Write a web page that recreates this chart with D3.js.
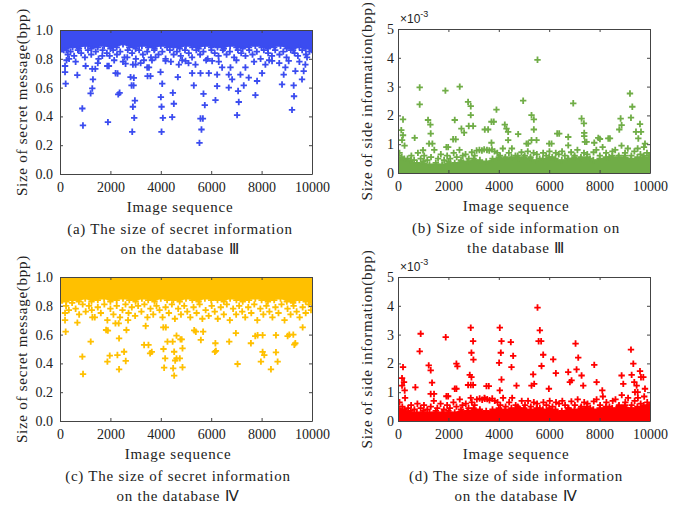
<!DOCTYPE html>
<html><head><meta charset="utf-8">
<script src="https://cdn.jsdelivr.net/npm/d3@7"></script>
<style>
html,body{margin:0;padding:0;background:#fff;}
svg text{font-family:"Liberation Serif","Times New Roman",serif;fill:#222;}
.lab{font-size:15px;letter-spacing:0.75px;}
</style></head>
<body><svg id="c" width="681" height="506"></svg>
<script>
// ---------------- DATA ----------------
const xTicks = [0,2000,4000,6000,8000,10000];
const msgTicks = [0,0.2,0.4,0.6,0.8,1.0];
const msgTickLabels = ["0.0","0.2","0.4","0.6","0.8","1.0"];
const sideTicks = [0,1,2,3,4,5];
const sideTickLabels = ["0","1","2","3","4","5"];
const bandX = d3.range(0,10001,250);

// (a) secret message, database III
const bandA_low = [0.85,0.86,0.88,0.87,0.89,0.87,0.88,0.89,0.87,0.88,0.90,0.88,0.87,0.89,0.88,0.87,0.89,0.88,0.88,0.87,0.89,0.88,0.87,0.89,0.88,0.88,0.87,0.89,0.88,0.87,0.88,0.89,0.88,0.87,0.88,0.89,0.87,0.86,0.88,0.87,0.86];
const fringeA = [[150,0.86],[310,0.83],[420,0.85],[560,0.82],[710,0.86],[840,0.84],[990,0.81],[1110,0.86],[1240,0.83],[1420,0.85],[1530,0.80],[1690,0.86],[1860,0.84],[1970,0.82],[2110,0.86],[2260,0.83],[2390,0.85],[2560,0.81],[2690,0.86],[2860,0.84],[3010,0.80],[3140,0.86],[3290,0.83],[3460,0.85],[3610,0.81],[3740,0.86],[3910,0.83],[4060,0.85],[4190,0.80],[4360,0.86],[4510,0.83],[4640,0.85],[4790,0.82],[4960,0.86],[5110,0.84],[5240,0.81],[5410,0.86],[5560,0.83],[5690,0.85],[5860,0.80],[6010,0.86],[6140,0.84],[6290,0.82],[6460,0.86],[6610,0.83],[6740,0.85],[6910,0.81],[7060,0.86],[7190,0.84],[7360,0.82],[7510,0.86],[7640,0.83],[7810,0.85],[7960,0.80],[8090,0.86],[8260,0.84],[8410,0.82],[8540,0.86],[8710,0.83],[8860,0.85],[8990,0.81],[9160,0.86],[9310,0.84],[9440,0.82],[9610,0.86],[9760,0.83],[9900,0.85],
 [260,0.79],[620,0.78],[1500,0.77],[2150,0.79],[2500,0.78],[3200,0.77],[3650,0.79],[4400,0.78],[4850,0.79],[5100,0.77],[5800,0.79],[6300,0.78],[7000,0.79],[7700,0.78],[8300,0.79],[8700,0.77],[9500,0.78]];
const outA = [[200,0.75],[200,0.708],[225,0.627],[360,0.80],[687,0.687],[885,0.455],[911,0.337],[1017,0.75],[1215,0.56],[1281,0.594],[1308,0.657],[1281,0.73],[1400,0.73],[1678,0.82],[1876,0.75],[1940,0.75],[1902,0.36],[2206,0.70],[2285,0.698],[2312,0.553],[2365,0.564],[2602,0.766],[2668,0.81],[2800,0.673],[2930,0.668],[2840,0.615],[2920,0.615],[2893,0.467],[2972,0.51],[2945,0.39],[2866,0.293],[2893,0.76],[3000,0.76],[3329,0.79],[3461,0.74],[3530,0.74],[3474,0.68],[3590,0.68],[3791,0.81],[4003,0.534],[4029,0.467],[3990,0.708],[4056,0.627],[4082,0.39],[4029,0.293],[4188,0.785],[4478,0.564],[4518,0.488],[4452,0.395],[4676,0.673],[4716,0.76],[4980,0.785],[5244,0.70],[5310,0.615],[5376,0.76],[5535,0.216],[5614,0.309],[5575,0.385],[5670,0.385],[5694,0.557],[5746,0.478],[5575,0.70],[5905,0.70],[6037,0.785],[6169,0.513],[6235,0.61],[6235,0.69],[6433,0.74],[6698,0.60],[6698,0.69],[6764,0.74],[6830,0.657],[7028,0.409],[7094,0.50],[7067,0.576],[7160,0.69],[7292,0.615],[7358,0.74],[7490,0.669],[7754,0.548],[7820,0.646],[8018,0.70],[8150,0.76],[8415,0.785],[8811,0.622],[8877,0.69],[8943,0.74],[9075,0.785],[9207,0.445],[9287,0.54],[9273,0.615],[9340,0.715],[9604,0.657],[9670,0.715],[9736,0.76],[9802,0.81]];

// (b) side information, database III (x10^-3)
const bandB_top = [0.60,0.50,0.45,0.35,0.40,0.30,0.35,0.30,0.40,0.35,0.45,0.40,0.50,0.45,0.40,0.50,0.55,0.50,0.55,0.60,0.55,0.50,0.45,0.50,0.55,0.50,0.45,0.50,0.55,0.50,0.55,0.45,0.50,0.55,0.60,0.55,0.60,0.50,0.55,0.60,0.55];
const fringeB = [[60,0.70],[150,0.55],[260,0.95],[380,0.50],[530,0.60],[640,0.45],[790,0.70],[900,0.50],[1040,0.60],[1160,0.45],[1310,0.55],[1440,0.80],[1590,0.50],[1700,0.65],[1830,0.45],[1950,0.60],[2070,0.50],[2210,0.70],[2330,0.55],[2440,0.80],[2570,0.60],[2680,0.65],[2810,0.50],[2930,0.72],[3040,0.60],[3120,0.78],[3230,0.80],[3330,0.78],[3420,0.82],[3530,0.80],[3620,0.78],[3730,0.82],[3830,0.75],[3940,0.70],[4050,0.60],[4160,0.85],[4260,0.55],[4400,0.70],[4520,0.85],[4660,0.60],[4780,0.50],[4900,0.72],[5030,0.60],[5150,0.75],[5260,0.55],[5380,0.70],[5510,0.65],[5620,0.50],[5760,0.70],[5880,0.60],[6010,0.75],[6120,0.55],[6260,0.70],[6380,0.65],[6510,0.75],[6620,0.60],[6760,0.50],[6870,0.72],[7010,0.60],[7120,0.80],[7260,0.55],[7380,0.70],[7510,0.65],[7620,0.50],[7760,0.72],[7870,0.80],[8010,0.60],[8120,0.90],[8260,0.70],[8380,0.55],[8510,0.75],[8620,0.80],[8760,0.60],[8870,0.95],[9010,0.70],[9120,0.85],[9260,0.60],[9380,0.75],[9510,0.85],[9620,0.65],[9760,0.90],[9880,0.70],[9960,0.60]];
const outB = [[5536,3.93],[861,2.97],[861,2.38],[1881,2.86],[2450,3.0],[2781,2.47],[2887,2.32],[2887,2.01],[2808,1.63],[2980,1.63],[2517,1.54],[2623,1.40],[2252,1.84],[2186,1.17],[2290,1.17],[1920,0.90],[1990,0.90],[199,1.86],[130,1.49],[199,1.31],[160,1.14],[662,1.22],[1192,1.84],[1285,1.68],[1298,1.37],[1232,1.02],[1364,1.02],[993,0.79],[3907,2.2],[3709,1.78],[3800,1.78],[3444,1.51],[3576,1.51],[3709,1.05],[4238,1.68],[4305,1.54],[4371,1.43],[4371,1.14],[4768,1.35],[4967,2.51],[5298,2.01],[5391,1.86],[5391,1.51],[5298,1.14],[5497,1.14],[5099,1.02],[5166,1.02],[6318,1.37],[6397,1.37],[6000,1.02],[6093,1.02],[6755,1.25],[6755,0.96],[6954,2.42],[7285,1.89],[7377,1.72],[7390,1.39],[7390,1.28],[7417,1.08],[7483,1.08],[7788,1.05],[7947,1.22],[8013,1.18],[8344,1.2],[8410,1.2],[8834,1.89],[8874,1.66],[8781,1.51],[9205,2.76],[9298,2.3],[9245,1.92],[9603,1.70],[9444,1.43],[9642,1.43],[9536,1.2],[9801,1.02]];

// (c) secret message, database IV
const bandC_low = [0.82,0.83,0.84,0.83,0.85,0.83,0.84,0.85,0.83,0.84,0.85,0.84,0.83,0.85,0.84,0.83,0.85,0.84,0.84,0.83,0.85,0.84,0.83,0.85,0.84,0.84,0.83,0.85,0.84,0.83,0.84,0.85,0.84,0.83,0.84,0.85,0.83,0.82,0.84,0.83,0.82];
const fringeC = [[240,0.80],[350,0.77],[480,0.82],[620,0.78],[760,0.74],[900,0.81],[1020,0.76],[1150,0.80],[1260,0.77],[1380,0.72],[1500,0.79],[1620,0.75],[1760,0.81],[1880,0.70],[2000,0.78],[2120,0.74],[2250,0.80],[2380,0.72],[2480,0.77],[2600,0.81],[2720,0.75],[2850,0.79],[2980,0.73],[3100,0.80],[3230,0.76],[3350,0.81],[3470,0.72],[3590,0.78],[3700,0.74],[3830,0.80],[3950,0.77],[4070,0.72],[4190,0.79],[4320,0.75],[4440,0.81],[4560,0.71],[4690,0.78],[4800,0.74],[4930,0.80],[5050,0.76],[5170,0.72],[5300,0.79],[5420,0.75],[5540,0.81],[5650,0.71],[5780,0.77],[5900,0.73],[6020,0.80],[6140,0.76],[6260,0.71],[6380,0.79],[6500,0.74],[6620,0.81],[6740,0.70],[6870,0.78],[6990,0.74],[7110,0.80],[7230,0.76],[7350,0.72],[7470,0.79],[7590,0.75],[7710,0.81],[7830,0.70],[7950,0.78],[8070,0.74],[8190,0.80],[8310,0.76],[8430,0.72],[8550,0.79],[8670,0.75],[8790,0.81],[8910,0.70],[9030,0.78],[9150,0.74],[9270,0.80],[9390,0.76],[9510,0.72],[9630,0.79],[9750,0.75],[9870,0.81],[9960,0.77]];
const outC = [[914,0.326],[887,0.447],[225,0.62],[200,0.70],[200,0.75],[689,0.683],[1219,0.551],[1285,0.72],[1881,0.412],[1974,0.454],[1830,0.632],[1900,0.628],[2278,0.458],[2344,0.359],[2344,0.574],[2200,0.678],[2330,0.678],[2543,0.481],[2609,0.417],[2636,0.632],[2700,0.70],[3338,0.528],[3510,0.528],[3576,0.47],[3642,0.48],[3400,0.66],[4132,0.37],[4172,0.435],[4106,0.50],[4265,0.551],[4100,0.65],[4200,0.65],[4530,0.315],[4490,0.366],[4570,0.42],[4623,0.435],[4530,0.481],[4470,0.551],[4623,0.593],[4755,0.435],[4861,0.373],[4861,0.505],[4780,0.567],[4830,0.567],[5325,0.63],[5390,0.62],[5589,0.563],[5680,0.62],[6146,0.48],[6186,0.487],[6166,0.54],[6715,0.551],[7046,0.396],[6980,0.61],[7576,0.54],[7748,0.59],[7841,0.596],[7973,0.412],[8040,0.48],[8106,0.458],[8040,0.596],[8371,0.359],[8636,0.412],[8570,0.477],[8570,0.596],[9033,0.59],[9099,0.60],[9298,0.53],[9338,0.54],[9258,0.60],[9629,0.65]];

// (d) side information, database IV (x10^-3)
const bandD_top = [0.50,0.40,0.35,0.30,0.35,0.30,0.35,0.30,0.35,0.30,0.40,0.35,0.45,0.40,0.35,0.40,0.45,0.40,0.45,0.50,0.45,0.40,0.45,0.40,0.45,0.40,0.35,0.45,0.40,0.45,0.50,0.40,0.45,0.50,0.45,0.50,0.55,0.45,0.50,0.55,0.50];
const fringeD = [[60,0.65],[170,0.50],[280,0.80],[400,0.45],[520,0.55],[650,0.40],[770,0.60],[900,0.45],[1030,0.55],[1160,0.40],[1300,0.50],[1420,0.70],[1560,0.45],[1690,0.60],[1820,0.40],[1950,0.55],[2060,0.45],[2200,0.65],[2320,0.50],[2450,0.75],[2560,0.55],[2690,0.60],[2800,0.45],[2930,0.65],[3040,0.55],[3130,0.75],[3240,0.78],[3340,0.74],[3430,0.80],[3540,0.76],[3630,0.72],[3740,0.78],[3840,0.70],[3950,0.65],[4060,0.55],[4170,0.80],[4270,0.50],[4410,0.65],[4530,0.80],[4670,0.55],[4790,0.45],[4910,0.70],[5040,0.55],[5160,0.70],[5270,0.50],[5390,0.65],[5520,0.60],[5630,0.45],[5770,0.65],[5890,0.55],[6020,0.70],[6130,0.50],[6270,0.65],[6390,0.60],[6520,0.70],[6630,0.55],[6770,0.45],[6880,0.68],[7020,0.55],[7130,0.75],[7270,0.50],[7390,0.65],[7520,0.60],[7630,0.45],[7770,0.68],[7880,0.75],[8020,0.55],[8130,0.85],[8270,0.65],[8390,0.50],[8520,0.70],[8630,0.75],[8770,0.55],[8880,0.90],[9020,0.65],[9130,0.80],[9270,0.55],[9390,0.70],[9520,0.80],[9630,0.60],[9770,0.85],[9890,0.65],[9960,0.55]];
const outD = [[5536,3.94],[5629,3.15],[5580,2.77],[5680,2.77],[5762,2.30],[5695,1.91],[5364,1.62],[5298,1.23],[5404,1.29],[900,3.03],[861,2.42],[1894,2.91],[2887,3.24],[2980,2.77],[2914,2.37],[2993,2.13],[2848,1.6],[2914,1.52],[2781,1.25],[2887,1.25],[2980,1.25],[2887,0.8],[2318,1.99],[2358,1.9],[2252,1.12],[2318,1.12],[1920,0.86],[1990,0.86],[1219,1.93],[1298,1.76],[1351,1.33],[1298,0.94],[1430,0.94],[199,1.87],[160,1.49],[238,1.35],[160,1.23],[265,1.06],[689,1.17],[4040,3.24],[4106,2.77],[4080,2.37],[4013,2.02],[4106,1.44],[4040,1.06],[4477,2.74],[4570,2.26],[4503,1.87],[4702,1.23],[3510,1.21],[3603,1.21],[3444,0.77],[6159,2.14],[6265,1.66],[5987,1.12],[6755,1.70],[6821,1.35],[6887,1.41],[7046,2.69],[7152,2.2],[7086,1.79],[7285,1.58],[7351,1.23],[7788,1.95],[7881,1.35],[8106,1.06],[8874,1.58],[8940,1.29],[9245,2.48],[9338,1.99],[9272,1.60],[9377,1.35],[9470,1.23],[9603,1.73],[9642,1.52],[9735,1.52],[9801,1.12],[9404,1.0],[9510,1.0]];

const captionsA = ["(a) The size of secret information","on the database \u2162"];
const captionsB = ["(b) Size of side information on","the database \u2162"];
const captionsC = ["(c) The size of secret information","on the database \u2163"];
const captionsD = ["(d) The size of side information","on the database \u2163"];

// ---------------- LAYOUT ----------------
const panels = [
  {x0:60, y0:30, w:252, h:144, dom:[0,1], ticks:msgTicks, labels:msgTickLabels, pad:7, color:"#3b4cf0",
   band:{lo:bandA_low, top:true}, fringe:fringeA, out:outA, ylab:"Size of secret message(bpp)", ylx:22, cap:captionsA, cx:180, exp:false},
  {x0:398, y0:29, w:252, h:144, dom:[0,5], ticks:sideTicks, labels:sideTickLabels, pad:4, color:"#70ad47",
   band:{hi:bandB_top, top:false}, fringe:fringeB, out:outB, ylab:"Size of side information(bpp)", ylx:367, cap:captionsB, cx:516, exp:true},
  {x0:60, y0:277, w:252, h:144, dom:[0,1], ticks:msgTicks, labels:msgTickLabels, pad:7, color:"#ffc000",
   band:{lo:bandC_low, top:true}, fringe:fringeC, out:outC, ylab:"Size of secret message(bpp)", ylx:22, cap:captionsC, cx:178, exp:false},
  {x0:398, y0:277, w:252, h:144, dom:[0,5], ticks:sideTicks, labels:sideTickLabels, pad:4, color:"#ff0000",
   band:{hi:bandD_top, top:false}, fringe:fringeD, out:outD, ylab:"Size of side information(bpp)", ylx:367, cap:captionsD, cx:516, exp:true}
];

const svg = d3.select("#c");
const plus = "M-3.2,0H3.2M0,-3.2V3.2";

panels.forEach((p,i)=>{
  const x = d3.scaleLinear().domain([0,10000]).range([0,p.w]);
  const y = d3.scaleLinear().domain(p.dom).range([p.h,0]);
  const g = svg.append("g").attr("transform",`translate(${p.x0},${p.y0})`);
  const cid = "clip"+i;
  g.append("clipPath").attr("id",cid).append("rect").attr("width",p.w).attr("height",p.h);
  const plot = g.append("g").attr("clip-path",`url(#${cid})`);

  // dense band
  const area = d3.area().x((d,j)=>x(bandX[j])).curve(d3.curveLinear);
  const edge = p.band.top ? p.band.lo : p.band.hi;
  if(p.band.top){
    area.y0(d=>y(d)).y1(()=>y(p.dom[1])-5);
  } else {
    area.y0(()=>y(0)+5).y1(d=>y(d));
  }
  plot.append("path").datum(edge).attr("d",area).attr("fill",p.color);
  plot.selectAll(".be").data(edge).enter().append("path")
    .attr("transform",(d,j)=>`translate(${x(bandX[j])},${y(d)})`).attr("d",plus)
    .attr("stroke",p.color).attr("stroke-width",1.8).attr("fill","none");

  const pts = p.fringe.concat(p.out);
  plot.selectAll(".pt").data(pts).enter().append("path")
    .attr("transform",d=>`translate(${x(d[0])},${y(d[1])})`).attr("d",plus)
    .attr("stroke",p.color).attr("stroke-width",1.8).attr("fill","none");

  // axes box
  const fmt = (arr,lab)=> (d)=> lab[arr.indexOf(d)];
  const ax = g.append("g").attr("transform",`translate(0,${p.h})`)
    .call(d3.axisBottom(x).tickValues(xTicks).tickFormat(d3.format("d")).tickSizeInner(-3).tickSizeOuter(0).tickPadding(8));
  const ay = g.append("g")
    .call(d3.axisLeft(y).tickValues(p.ticks).tickFormat(fmt(p.ticks,p.labels)).tickSizeInner(-3).tickSizeOuter(0).tickPadding(p.pad));
  const at = g.append("g").call(d3.axisTop(x).tickValues(xTicks).tickFormat("").tickSizeInner(-3).tickSizeOuter(0));
  const ar = g.append("g").attr("transform",`translate(${p.w},0)`)
    .call(d3.axisRight(y).tickValues(p.ticks).tickFormat("").tickSizeInner(-3).tickSizeOuter(0));
  [ax,ay,at,ar].forEach(a=>{
    a.attr("font-family",null).attr("font-size",null);
    a.selectAll("path.domain").attr("stroke","#444").attr("stroke-width",1);
    a.selectAll(".tick line").attr("stroke","#444");
    a.selectAll("text").attr("font-size","14px").attr("fill","#222");
  });

  // labels
  g.append("text").attr("class","lab").attr("transform",`translate(${p.ylx-p.x0},${p.h/2}) rotate(-90)`)
    .attr("text-anchor","middle").attr("dy","0.35em").text(p.ylab);
  g.append("text").attr("class","lab").attr("x",p.cx-p.x0).attr("y",p.h+38).attr("text-anchor","middle")
    .text("Image sequence");
  p.cap.forEach((c,k)=>{
    g.append("text").attr("class","lab").attr("x",p.cx-p.x0).attr("y",p.h+60+k*20).attr("text-anchor","middle")
      .text(c);
  });
  if(p.exp){
    const t = g.append("text").attr("x",2).attr("y",-6)
      .style("font-family","'Liberation Sans',Arial,sans-serif").attr("font-size","12px").attr("fill","#333");
    t.append("tspan").text("\u00d710");
    t.append("tspan").attr("dy",-6).attr("font-size","9px").text("-3");
  }
});
</script></body></html>
